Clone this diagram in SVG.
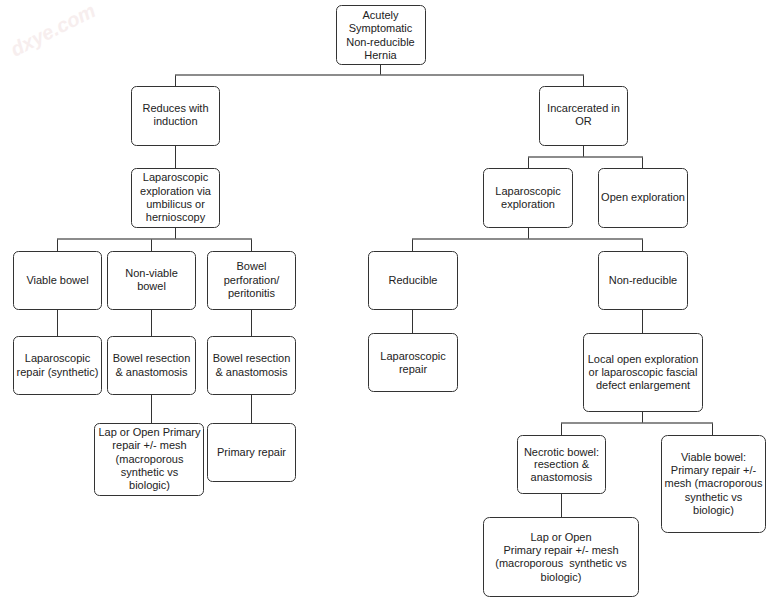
<svg xmlns="http://www.w3.org/2000/svg" width="771" height="602" viewBox="0 0 771 602">
<style>
.box{fill:#fff;stroke:#333;stroke-width:1}
text{font-family:"Liberation Sans",Arial,sans-serif;font-size:11px;fill:#222;text-anchor:middle}
.c{stroke:#333;stroke-width:1;fill:none}
.h{stroke:#666;stroke-width:1.3;fill:none}
.wm{font-family:"Liberation Sans",Arial,sans-serif;font-size:20px;font-weight:bold;font-style:italic;fill:#f7eeee;text-anchor:middle}
</style>
<rect width="771" height="602" fill="#fff"/>
<text class="wm" transform="translate(56,36) rotate(-27)">dxye.com</text>
<g id="connectors">
<path class="c" d="M380.5 64V75M175.5 75V86M583.5 75V86"/>
<path class="h" d="M175 75H584"/>
<path class="c" d="M175.5 145V168M175.5 227V239M57.5 239V251M151.5 239V251M251.5 239V251"/>
<path class="h" d="M57 239H252"/>
<path class="c" d="M57.5 309V336M151.5 309V336M251.5 309V336M151.5 394V423M251.5 394V423"/>
<path class="c" d="M583.5 145V157M528.5 157V168M642.5 157V168"/>
<path class="h" d="M528 157H643"/>
<path class="c" d="M528.5 227V239M412.5 239V251M642.5 239V251"/>
<path class="h" d="M412 239H643"/>
<path class="c" d="M412.5 309V333M642.5 309V333M642.5 411V423M561.5 423V435M712.5 423V435M561.5 493V517"/>
<path class="h" d="M561 423H713"/>
</g>
<g id="n_root"><rect class="box" x="336.5" y="5.5" width="89" height="59" rx="5"/>
<text x="380.5" y="19">Acutely</text><text x="380.5" y="32">Symptomatic</text><text x="380.5" y="46">Non-reducible</text><text x="380.5" y="59">Hernia</text></g>
<g id="n_reduces"><rect class="box" x="131.5" y="86.5" width="88" height="59" rx="5"/>
<text x="175.5" y="112">Reduces with</text><text x="175.5" y="125">induction</text></g>
<g id="n_incarcerated"><rect class="box" x="539.5" y="86.5" width="88" height="59" rx="5"/>
<text x="583.5" y="112">Incarcerated in</text><text x="583.5" y="125">OR</text></g>
<g id="n_lapexp_left"><rect class="box" x="131.5" y="168.5" width="88" height="59" rx="5"/>
<text x="175.5" y="181">Laparoscopic</text><text x="175.5" y="195">exploration via</text><text x="175.5" y="208">umbilicus or</text><text x="175.5" y="221">hernioscopy</text></g>
<g id="n_viable"><rect class="box" x="13.5" y="251.5" width="88" height="58" rx="5"/>
<text x="57.5" y="284">Viable bowel</text></g>
<g id="n_nonviable"><rect class="box" x="107.5" y="251.5" width="88" height="58" rx="5"/>
<text x="151.5" y="277">Non-viable</text><text x="151.5" y="290">bowel</text></g>
<g id="n_perforation"><rect class="box" x="207.5" y="251.5" width="88" height="58" rx="5"/>
<text x="251.5" y="270">Bowel</text><text x="251.5" y="284">perforation/</text><text x="251.5" y="297">peritonitis</text></g>
<g id="n_laprepair_syn"><rect class="box" x="13.5" y="336.5" width="88" height="58" rx="5"/>
<text x="57.5" y="362">Laparoscopic</text><text x="57.5" y="376">repair (synthetic)</text></g>
<g id="n_resection1"><rect class="box" x="107.5" y="336.5" width="88" height="58" rx="5"/>
<text x="151.5" y="362">Bowel resection</text><text x="151.5" y="376">&amp; anastomosis</text></g>
<g id="n_resection2"><rect class="box" x="207.5" y="336.5" width="88" height="58" rx="5"/>
<text x="251.5" y="362">Bowel resection</text><text x="251.5" y="376">&amp; anastomosis</text></g>
<g id="n_lapopen_left"><rect class="box" x="94.5" y="423.5" width="109" height="72" rx="5"/>
<text x="149.5" y="436">Lap or Open Primary</text><text x="149.5" y="449">repair +/- mesh</text><text x="149.5" y="463">(macroporous</text><text x="149.5" y="476">synthetic vs</text><text x="149.5" y="489">biologic)</text></g>
<g id="n_primary"><rect class="box" x="207.5" y="423.5" width="88" height="58" rx="5"/>
<text x="251.5" y="456">Primary repair</text></g>
<g id="n_lapexp_right"><rect class="box" x="483.5" y="168.5" width="89" height="59" rx="5"/>
<text x="528" y="195">Laparoscopic</text><text x="528" y="208">exploration</text></g>
<g id="n_openexp"><rect class="box" x="598.5" y="168.5" width="89" height="59" rx="5"/>
<text x="643" y="201">Open exploration</text></g>
<g id="n_reducible"><rect class="box" x="368.5" y="251.5" width="89" height="58" rx="5"/>
<text x="413" y="284">Reducible</text></g>
<g id="n_nonreducible"><rect class="box" x="598.5" y="251.5" width="89" height="58" rx="5"/>
<text x="643" y="284">Non-reducible</text></g>
<g id="n_laprepair"><rect class="box" x="368.5" y="333.5" width="89" height="58" rx="5"/>
<text x="413" y="360">Laparoscopic</text><text x="413" y="373">repair</text></g>
<g id="n_local"><rect class="box" x="583.5" y="333.5" width="119" height="78" rx="5"/>
<text x="643" y="363">Local open exploration</text><text x="643" y="376">or laparoscopic fascial</text><text x="643" y="389">defect enlargement</text></g>
<g id="n_necrotic"><rect class="box" x="517.5" y="435.5" width="88" height="58" rx="5"/>
<text x="561.5" y="456">Necrotic bowel:</text><text x="561.5" y="468">resection &amp;</text><text x="561.5" y="481">anastomosis</text></g>
<g id="n_viable2"><rect class="box" x="661.5" y="435.5" width="104" height="97" rx="6"/>
<text x="713.5" y="461">Viable bowel:</text><text x="713.5" y="474">Primary repair +/-</text><text x="713.5" y="487">mesh (macroporous</text><text x="713.5" y="501">synthetic vs</text><text x="713.5" y="514">biologic)</text></g>
<g id="n_lapopen_right"><rect class="box" x="483.5" y="517.5" width="155" height="79" rx="6"/>
<text x="561" y="541">Lap or Open</text><text x="561" y="554">Primary repair +/- mesh</text><text x="561" y="567" xml:space="preserve">(macroporous  synthetic vs</text><text x="561" y="581">biologic)</text></g>
</svg>
